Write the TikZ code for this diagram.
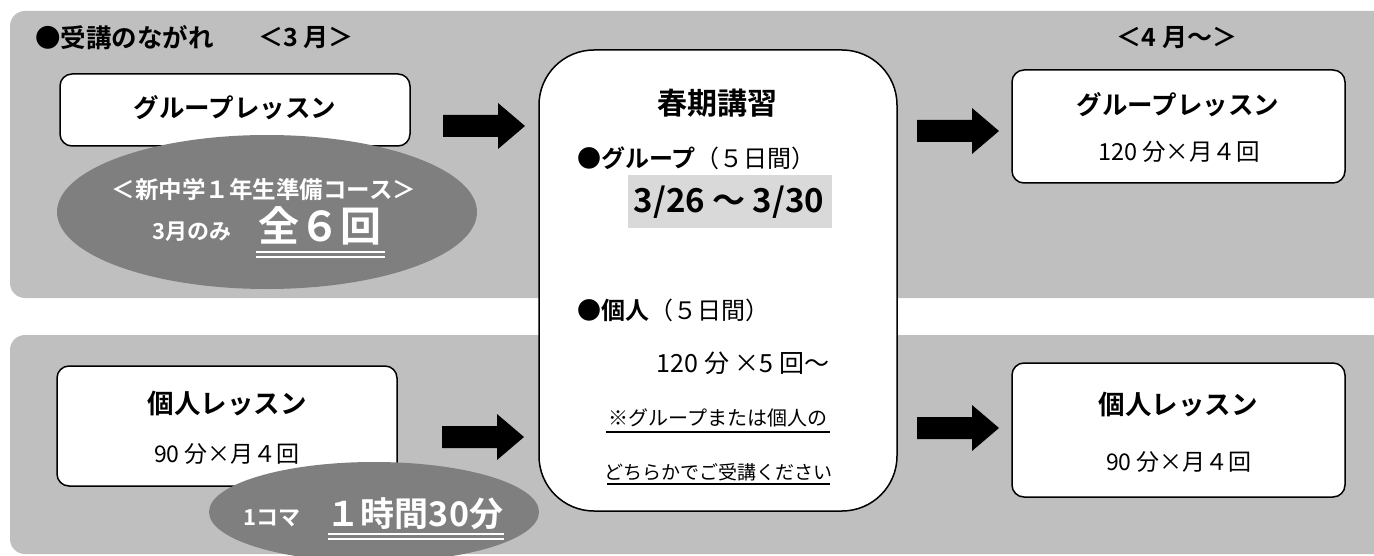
\documentclass[tikz,border=0pt]{standalone}
\usepackage{fontspec}
\setmainfont{Noto Sans CJK JP}[BoldFont={* Bold}]
\usetikzlibrary{shapes.geometric}
\definecolor{panelgray}{HTML}{BFBFBF}
\definecolor{ovalgray}{HTML}{7F7F7F}
\definecolor{hlgray}{HTML}{D9D9D9}
\tikzset{
  fs/.style={font=\fontsize{#1}{#1}\selectfont},
  bfs/.style={font=\fontsize{#1}{#1}\selectfont\bfseries},
  txt/.style={inner sep=0pt, anchor=center},
  box/.style={draw=black, line width=1.5pt, fill=white, rounded corners=12pt, inner sep=0pt},
  oval/.style={ellipse, fill=ovalgray, inner sep=0pt},
  panel/.style={fill=panelgray, rounded corners=15pt},
  blockarrow/.pic={\fill[black] (0,-11) -- (55,-11) -- (55,-23) -- (82,0) -- (55,23) -- (55,11) -- (0,11) -- cycle;}
}
\begin{document}
\begin{tikzpicture}[x=1pt,y=-1pt]
\useasboundingbox (0,0) rectangle (1374,556);
\clip (0,0) rectangle (1374,556);
\fill[white] (0,0) rectangle (1374,556);
% panels
\fill[panel] (10,11) rectangle (1400,298);
\fill[panel] (10,335) rectangle (1400,554);
% header
\node[txt, anchor=west, bfs=25.5] (hdr1) at (35,38) {●受講のながれ};
\node[txt, anchor=west, bfs=25] (hdr2) at (258,38) {＜3 月＞};
\node[txt, bfs=25] (hdr3) at (1177,38) {＜4 月～＞};
% top-left box
\node[box, minimum width=350pt, minimum height=72pt] (glbox) at (235,110) {};
\node[txt, bfs=25.5] (gltxt) at (235,108) {グループレッスン};
% oval 1
\node[oval, minimum width=420pt, minimum height=154pt] (ov1) at (267,212) {};
\node[txt, bfs=23.5, text=white] (ov1a) at (264,190) {＜新中学１年生準備コース＞};
\node[txt, bfs=22, text=white] (ov1b) at (192,232) {3月のみ};
\node[txt, bfs=41, text=white] (ov1c) at (320,226) {全６回};
\draw[white, line width=1.6pt] (256,252) -- (385,252);
\draw[white, line width=1.6pt] (256,257) -- (385,257);
% bottom-left box
\node[box, minimum width=340pt, minimum height=120pt] (kjbox) at (227,426) {};
\node[txt, bfs=26.5] (kjtxt) at (227,404) {個人レッスン};
\node[txt, fs=23] (kjsub) at (227,454) {90 分×月４回};
% oval 2
\node[oval, minimum width=330pt, minimum height=100pt] (ov2) at (374,512) {};
\node[txt, bfs=22, text=white] (ov2a) at (272,518) {1コマ};
\node[txt, bfs=34, text=white] (ov2b) at (415,514) {１時間30分};
\draw[white, line width=1.6pt] (328,534) -- (504,534);
\draw[white, line width=1.6pt] (328,539) -- (504,539);
% arrows
\pic at (443,126) {blockarrow};
\pic at (917,131) {blockarrow};
\pic at (442,437) {blockarrow};
\pic at (917,428) {blockarrow};
% center box
\node[box, rounded corners=55pt, minimum width=358pt, minimum height=461pt] (spbox) at (718,280.5) {};
\node[txt, bfs=30] (sptitle) at (717,103) {春期講習};
\node[txt, anchor=west, fs=24] (spg) at (577,158) {\textbf{●グループ}（５日間）};
\node[fill=hlgray, minimum width=204pt, minimum height=53pt, inner sep=0pt] (hl) at (730,201.5) {};
\node[txt, bfs=33] (dates) at (729,202) {3/26 ～ 3/30};
\node[txt, anchor=west, fs=24] (spk) at (577,310) {\textbf{●個人}（５日間）};
\node[txt, fs=25] (spk2) at (743,363) {120 分 ×5 回～};
\node[txt, fs=20] (note1) at (718,418) {※グループまたは個人の};
\draw[line width=2pt] (606,432) -- (830,432);
\node[txt, fs=19] (note2) at (718,472) {どちらかでご受講ください};
\draw[line width=2pt] (607,484) -- (830,484);
% right boxes
\node[box, minimum width=333pt, minimum height=113pt] (rgbox) at (1178.5,126.5) {};
\node[txt, bfs=25.5] (rgtxt) at (1178,105) {グループレッスン};
\node[txt, fs=23.5] (rgsub) at (1179,152) {120 分×月４回};
\node[box, minimum width=333pt, minimum height=134pt] (rkbox) at (1178.5,430) {};
\node[txt, bfs=26.5] (rktxt) at (1178,405) {個人レッスン};
\node[txt, fs=23] (rksub) at (1179,462) {90 分×月４回};
\end{tikzpicture}
\end{document}
